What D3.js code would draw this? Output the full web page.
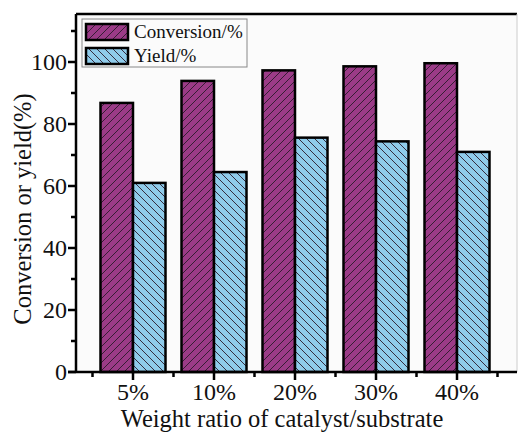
<!DOCTYPE html>
<html>
<head>
<meta charset="utf-8">
<script src="https://cdn.jsdelivr.net/npm/d3@7"></script>
<style>
  body { margin: 0; background: #fff; }
</style>
</head>
<body>
<div id="chart"></div>
<script>
const categories = ["5%", "10%", "20%", "30%", "40%"];
const conversion = [86.8, 93.9, 97.3, 98.6, 99.6];
const yieldVals = [61.0, 64.5, 75.6, 74.4, 71.0];
const seriesNames = ["Conversion/%", "Yield/%"];
const yTicks = [0, 20, 40, 60, 80, 100];

const FONT = "'Liberation Serif', monospace";
const W = 520, H = 436;
const svg = d3.select("#chart").append("svg")
  .attr("width", W).attr("height", H);

const y = d3.scaleLinear().domain([0, 100]).range([372, 62]);
const x = d3.scaleLinear().domain([0, 4]).range([133, 457]);
const pLeft = 76, pRight = 517, pTop = y(115.5), pBottom = y(0);
const barW = 32.5;

// hatch patterns
const defs = svg.append("defs");
function hatch(id, fill, dir) {
  const p = defs.append("pattern")
    .attr("id", id)
    .attr("patternUnits", "userSpaceOnUse")
    .attr("width", 8).attr("height", 8);
  p.append("rect").attr("width", 8).attr("height", 8).attr("fill", fill);
  const d = dir > 0
    ? "M-2,2 l4,-4 M0,8 l8,-8 M6,10 l4,-4"
    : "M-2,6 l4,4 M0,0 l8,8 M6,-2 l4,4";
  p.append("path").attr("d", d).attr("stroke", "#2a1a2a")
    .attr("stroke-width", 0.9);
}
hatch("hConv", "#9b3b87", 1);
hatch("hYield", "#8fcbea", -1);

// plot background
svg.append("rect")
  .attr("x", pLeft).attr("y", pTop)
  .attr("width", pRight - pLeft).attr("height", pBottom - pTop)
  .attr("fill", "#fbfbfb");

// bars
const g = svg.append("g");
g.selectAll(".conv").data(conversion).enter().append("rect")
  .attr("x", (d, i) => x(i) - barW)
  .attr("y", d => y(d))
  .attr("width", barW)
  .attr("height", d => y(0) - y(d))
  .attr("fill", "url(#hConv)")
  .attr("stroke", "#000").attr("stroke-width", 2.5);
g.selectAll(".yld").data(yieldVals).enter().append("rect")
  .attr("x", (d, i) => x(i))
  .attr("y", d => y(d))
  .attr("width", barW)
  .attr("height", d => y(0) - y(d))
  .attr("fill", "url(#hYield)")
  .attr("stroke", "#000").attr("stroke-width", 2.5);

// frame: top and right
svg.append("line")
  .attr("x1", pLeft).attr("x2", pRight).attr("y1", pTop).attr("y2", pTop)
  .attr("stroke", "#000").attr("stroke-width", 2.5);
svg.append("line")
  .attr("x1", pRight).attr("x2", pRight).attr("y1", pTop).attr("y2", pBottom)
  .attr("stroke", "#ccc").attr("stroke-width", 1);

// y axis
const yAxis = svg.append("g");
yAxis.append("line")
  .attr("x1", pLeft).attr("x2", pLeft).attr("y1", pTop).attr("y2", pBottom)
  .attr("stroke", "#000").attr("stroke-width", 2.5);
const minorY = d3.range(10, 115, 20);
yAxis.selectAll(".ymaj").data(yTicks).enter().append("line")
  .attr("x1", pLeft - 8).attr("x2", pLeft)
  .attr("y1", d => y(d)).attr("y2", d => y(d))
  .attr("stroke", "#000").attr("stroke-width", 2.5);
yAxis.selectAll(".ymin").data(minorY).enter().append("line")
  .attr("x1", pLeft - 5).attr("x2", pLeft)
  .attr("y1", d => y(d)).attr("y2", d => y(d))
  .attr("stroke", "#000").attr("stroke-width", 2.5);
yAxis.selectAll(".ylab").data(yTicks).enter().append("text")
  .attr("x", pLeft - 9).attr("y", d => y(d))
  .attr("dy", "0.35em")
  .attr("text-anchor", "end")
  .style("font-family", FONT).style("font-size", "24px")
  .attr("fill", "#111")
  .text(d => d);

// x axis
const xAxis = svg.append("g");
xAxis.append("line")
  .attr("x1", pLeft - 8).attr("x2", pRight).attr("y1", pBottom).attr("y2", pBottom)
  .attr("stroke", "#000").attr("stroke-width", 2.5);
xAxis.selectAll(".xmaj").data(categories).enter().append("line")
  .attr("x1", (d, i) => x(i)).attr("x2", (d, i) => x(i))
  .attr("y1", pBottom).attr("y2", pBottom + 8)
  .attr("stroke", "#000").attr("stroke-width", 2.5);
const minorX = d3.range(-0.5, 5, 1);
xAxis.selectAll(".xmin").data(minorX).enter().append("line")
  .attr("x1", d => x(d)).attr("x2", d => x(d))
  .attr("y1", pBottom).attr("y2", pBottom + 5)
  .attr("stroke", "#000").attr("stroke-width", 2.5);
xAxis.selectAll(".xlab").data(categories).enter().append("text")
  .attr("x", (d, i) => x(i)).attr("y", 400)
  .attr("text-anchor", "middle")
  .style("font-family", FONT).style("font-size", "24px")
  .attr("fill", "#111")
  .text(d => d);

// axis titles
svg.append("text")
  .attr("x", 282).attr("y", 427)
  .attr("text-anchor", "middle")
  .style("font-family", FONT).style("font-size", "24.5px")
  .attr("fill", "#111")
  .text("Weight ratio of catalyst/substrate");
svg.append("text")
  .attr("transform", "translate(31,209) rotate(-90)")
  .attr("text-anchor", "middle")
  .style("font-family", FONT).style("font-size", "24.5px")
  .attr("fill", "#111")
  .text("Conversion or yield(%)");

// legend
const lg = svg.append("g");
lg.append("rect")
  .attr("x", 82).attr("y", 19).attr("width", 165).attr("height", 48)
  .attr("fill", "#fbfbfb").attr("stroke", "#888").attr("stroke-width", 1);
const fills = ["url(#hConv)", "url(#hYield)"];
seriesNames.forEach((name, i) => {
  lg.append("rect")
    .attr("x", 86).attr("y", 24 + i * 24)
    .attr("width", 42).attr("height", 16)
    .attr("fill", fills[i])
    .attr("stroke", "#000").attr("stroke-width", 2.5);
  lg.append("text")
    .attr("x", 134).attr("y", 38 + i * 24)
    .style("font-family", FONT).style("font-size", "19px")
    .attr("fill", "#111")
    .text(name);
});
</script>
</body>
</html>
